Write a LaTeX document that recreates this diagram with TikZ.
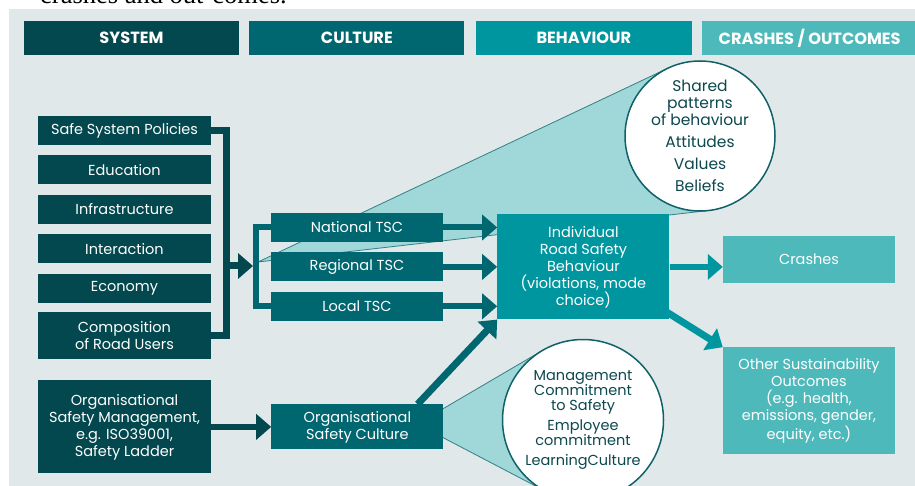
\documentclass[tikz,border=0pt]{standalone}
\usepackage{fontspec}
\setmainfont{Poppins}
\newfontfamily\serif{Liberation Serif}
\usepackage{xcolor}
\usetikzlibrary{positioning, arrows.meta, calc}
\definecolor{bg}{RGB}{225,232,234}
\definecolor{sysc}{RGB}{2,72,78}
\definecolor{culc}{RGB}{0,102,112}
\definecolor{behc}{RGB}{0,150,160}
\definecolor{outc}{RGB}{77,185,187}
\definecolor{conec}{RGB}{160,216,217}
\definecolor{ringc}{RGB}{14,98,104}
\definecolor{ringtext}{RGB}{12,72,78}

\begin{document}
\begin{tikzpicture}[x=1pt, y=-1pt,
    head/.style={minimum height=34pt, inner sep=0pt, text=white, font=\fontsize{16.2}{18}\selectfont\bfseries},
    box/.style={minimum height=29pt, inner sep=0pt, align=center, text=white, font=\fontsize{14.5}{17}\selectfont},
    sysbox/.style={box, fill=sysc, minimum width=173pt},
    culbox/.style={box, fill=culc, minimum width=172pt},
    outbox/.style={box, fill=outc, minimum width=172pt},
    disc/.style={circle, inner sep=0pt, outer sep=0pt},
    ring/.style={disc, draw=ringc, line width=1.5pt, fill=white, align=center, text=ringtext},
    cone/.style={fill=conec, draw=ringc!75!conec, line width=0.8pt, line join=round},
    tip/.style={-{Triangle[length=15pt, width=25pt]}}]
    \useasboundingbox (0,0) rectangle (915,486);
    \clip (0,0) rectangle (915,486);
    \fill[bg] (9,9.5) rectangle (915,486);
    \node[anchor=base west, inner sep=0pt, font=\serif\fontsize{26.5}{30}\selectfont] (intro) at (40,4) {crashes and out-comes.};

    \path node[disc, minimum size=150pt] (disctop) at (700,136) {}
          node[disc, minimum size=161pt] (discbot) at (583,420) {};
    \coordinate (apextop) at (258,262);
    \coordinate (apexbot) at (417,424);
    \filldraw[cone] (apextop) -- (tangent cs:node=disctop,point={(apextop)},solution=1) -- (tangent cs:node=disctop,point={(apextop)},solution=2) -- cycle;
    \filldraw[cone] (apexbot) -- (tangent cs:node=discbot,point={(apexbot)},solution=1) -- (tangent cs:node=discbot,point={(apexbot)},solution=2) -- cycle;

    \node[head, fill=sysc, minimum width=215pt] (hsys) at (131.5,38) {SYSTEM};
    \node[head, fill=culc, minimum width=215pt, right=10pt of hsys] (hcul) {CULTURE};
    \node[head, fill=behc, minimum width=216pt, right=11pt of hcul] (hbeh) {BEHAVIOUR};
    \node[head, fill=outc, minimum width=215pt, right=10pt of hbeh] (hout) {CRASHES / OUTCOMES};

    \node[sysbox] (ssp) at (124.5,130.5) {Safe System Policies};
    \node[sysbox, below=10pt of ssp] (edu) {Education};
    \node[sysbox, below=10pt of edu] (infra) {Infrastructure};
    \node[sysbox, below=10pt of infra] (inter) {Interaction};
    \node[sysbox, below=10pt of inter] (econ) {Economy};
    \node[sysbox, minimum height=47pt, below=9pt of econ] (comp) {Composition\\of Road Users};
    \node[sysbox, minimum height=93pt, below=21pt of comp] (osm) {Organisational\\Safety Management,\\e.g. ISO39001,\\Safety Ladder};

    \node[culbox] (nat) at (357,227.5) {National TSC};
    \node[culbox, below=10pt of nat] (reg) {Regional TSC};
    \node[culbox, below=10pt of reg] (loc) {Local TSC};
    \node[culbox, minimum height=45pt, right=60pt of osm] (osc) {Organisational\\Safety Culture};

    \node[box, fill=behc, minimum width=172pt, minimum height=105pt, right=54pt of reg] (ind) {Individual\\Road Safety\\Behaviour\\(violations, mode\\choice)};

    \node[outbox, minimum height=47pt] (crash) at (809,259.5) {Crashes};
    \node[outbox, minimum height=107pt, below=64pt of crash] (other) {Other Sustainability\\Outcomes\\(e.g. health,\\emissions, gender,\\equity, etc.)};

    \coordinate (sysbar) at (226,266);
    \coordinate (culbar) at (256,266);
    \draw[sysc, line width=7pt] (ssp.east) -| (sysbar) |- (comp.east);
    \draw[sysc, line width=7pt, tip, shorten >=3pt] (sysbar) -- (culbar);
    \draw[culc, line width=6pt] (nat.west) -| (culbar) |- (loc.west);
    \foreach \tsc in {nat, reg, loc}
        \draw[culc, line width=6pt, tip] (\tsc.east) -- (\tsc.east -| ind.west);
    \draw[sysc, line width=6pt, tip] (osm.east) -- (osm.east -| osc.west);
    \draw[culc, line width=7pt, tip] ([xshift=-26pt]osc.north east) -- (ind.south west);
    \draw[behc, line width=6pt, tip] (ind.east) -- (ind.east -| crash.west);
    \draw[behc, line width=7pt, tip] ([shift={(-10pt,12pt)}]ind.south east) -- (other.north west);

    \node[ring, minimum size=150pt, font=\fontsize{15.5}{17}\selectfont] (ringtop) at (disctop) {Shared\\patterns\\of behaviour\\[5pt]Attitudes\\[5pt]Values\\[5pt]Beliefs};
    \node[ring, minimum size=161pt, font=\fontsize{14.5}{15}\selectfont] (ringbot) at (discbot) {Management\\Commitment\\to Safety\\[5pt]Employee\\commitment\\[5pt]LearningCulture};
\end{tikzpicture}
\end{document}
